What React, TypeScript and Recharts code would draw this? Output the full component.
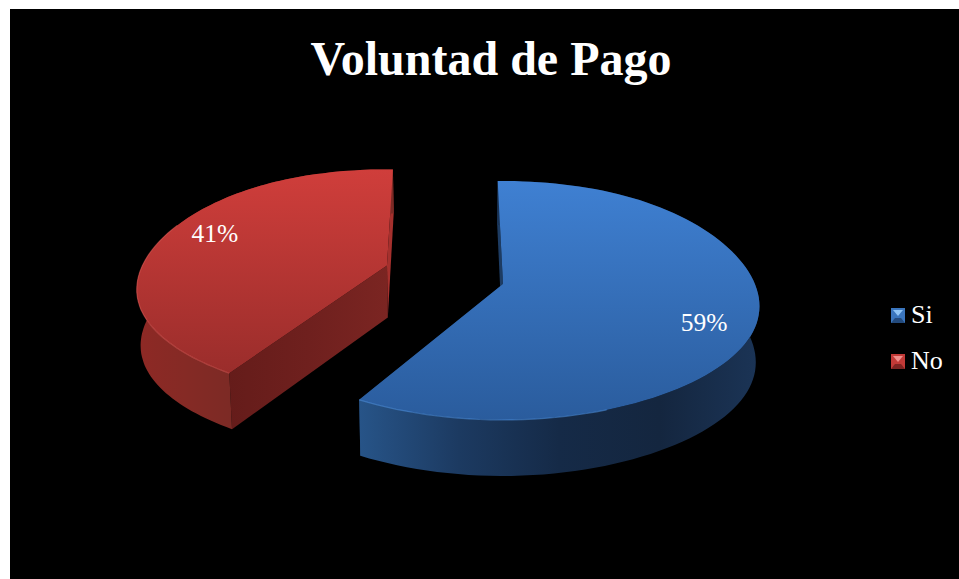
import React from 'react';
import { PieChart, Pie, Legend } from 'recharts';

const categories = ['Si', 'No'];
const values = [59, 41];
const fills = ['#3a75bd', '#c23a37'];
const titleText = 'Voluntad de Pago';

const tableData = categories.map((name, i) => ({ name, value: values[i], fill: fills[i] }));

const CW = 949, CH = 570, OX = 10, OY = 9;
const PIE_CX = 435, PIE_CY = 265, PIE_R = 100;

type Look = {
  dx: number; dy: number; rx: number; ry: number; k: number; startAdj: number; endAdj: number;
  labelF: number; labelDy: number; edgeFrom: number; edgeTo: number;
  top: [string, string]; ribbon: string[]; cut: string[]; sliver: string; edge: string;
  topY: [number, number]; ribbonX: [number, number]; cutX: [number, number];
};
const looks: Record<string, Look> = {
  Si: {
    dx: 58, dy: 10, rx: 2.54, ry: 1.172, k: 0.138, startAdj: 0.65, endAdj: -0.5, labelF: 0.795, labelDy: 14.5,
    edgeFrom: 76, edgeTo: 101,
    top: ['#3f80d2', '#2a5c9d'], topY: [172, 411],
    ribbon: ['#275488', '#1c3a61', '#152a47', '#14263f', '#1b3456'], ribbonX: [349, 750],
    cut: ['#1d3c63', '#1d3c63'], cutX: [350, 500], sliver: '#1d3c63', edge: '#4f90dc',
  },
  No: {
    dx: -58, dy: -8.5, rx: 2.47, ry: 1.115, k: 0.16, startAdj: 3.2, endAdj: 3.6, labelF: 0.74, labelDy: -11.5,
    edgeFrom: 0, edgeTo: 56,
    top: ['#d03e3b', '#9a2d2b'], topY: [159, 365],
    ribbon: ['#8e2925', '#852a25', '#7c2a25'], ribbonX: [127, 222],
    cut: ['#651c1a', '#6f201e', '#7b2522'], cutX: [218, 378], sliver: '#a5302d', edge: '#dc5a55',
  },
};

const BOTTOM_SCALE = 0.988;
const SIDE_DROP = 6;

function project(l: Look, cx: number, cy: number, r: number, thetaDeg: number, f = 1) {
  const t = (thetaDeg * Math.PI) / 180;
  const u = Math.sin(t) * f, v = -Math.cos(t) * f;
  const w = 1 - l.k * v;
  return { x: cx + l.dx + (l.rx * r * u) / w, y: cy + l.dy + (l.ry * r * v) / w + SIDE_DROP * u * u * u * u, v };
}
function lower(p: { x: number; y: number; v: number }, cx: number, isApex = false) {
  const d = isApex ? 52 : p.v >= -0.1 ? 56 : 56 - (12 * (-0.1 - p.v)) / 0.9;
  return { x: cx + (p.x - cx) * BOTTOM_SCALE, y: p.y + d };
}
const toPath = (pts: { x: number; y: number }[], close = true) =>
  pts.map((p, i) => `${i ? 'L' : 'M'}${p.x.toFixed(1)} ${p.y.toFixed(1)}`).join(' ') + (close ? ' Z' : '');

function stops(cols: string[]) {
  return cols.map((c, i) => <stop key={i} offset={i / Math.max(cols.length - 1, 1)} stopColor={c} />);
}

function Slice3D(props: any) {
  const { cx, cy, outerRadius, startAngle, endAngle, name, payload } = props;
  const key = name ?? payload?.name;
  const l = looks[key];
  if (!l) return null;
  const a = Math.min(90 - startAngle, 90 - endAngle);
  const b = Math.max(90 - startAngle, 90 - endAngle);
  const th0 = a + l.startAdj;
  const th1 = b + l.endAdj;
  const arc: { x: number; y: number; v: number }[] = [];
  const n = 100;
  for (let i = 0; i <= n; i++) arc.push(project(l, cx, cy, outerRadius, th0 + ((th1 - th0) * i) / n));
  const apex = project(l, cx, cy, outerRadius, 0, 0);
  const low = arc.map((p) => lower(p, cx + 10));
  const apexL = lower(apex, cx + 10, true);
  const first = arc[0], last = arc[n], firstL = low[0], lastL = low[n];
  const topPath = toPath([apex, ...arc]);
  const ribbon = toPath([...arc, ...low.slice().reverse()]);
  const id = `g${key}`;
  const edgeArc = arc.slice(l.edgeFrom, l.edgeTo);
  return (
    <g>
      <defs>
        <linearGradient id={`${id}t`} gradientUnits="userSpaceOnUse" x1="0" x2="0" y1={l.topY[0]} y2={l.topY[1]}>
          {stops(l.top)}
        </linearGradient>
        <linearGradient id={`${id}r`} gradientUnits="userSpaceOnUse" x1={l.ribbonX[0]} x2={l.ribbonX[1]} y1="0" y2="0">
          {stops(l.ribbon)}
        </linearGradient>
        <linearGradient id={`${id}c`} gradientUnits="userSpaceOnUse" x1={l.cutX[0]} x2={l.cutX[1]} y1="0" y2="0">
          {stops(l.cut)}
        </linearGradient>
      </defs>
      <path d={toPath(key === 'Si' ? [apex, first, firstL, apexL] : [apex, last, lastL, apexL])} fill={l.sliver} />
      <path d={toPath(key === 'Si' ? [apex, last, lastL, apexL] : [apex, first, firstL, apexL])} fill={`url(#${id}c)`} />
      <path d={ribbon} fill={`url(#${id}r)`} />
      <path d={topPath} fill={`url(#${id}t)`} />
      <path d={toPath(edgeArc, false)} fill="none" stroke={l.edge} strokeWidth={1.2} strokeOpacity={0.55} />
    </g>
  );
}

function SliceLabel(props: any) {
  const { cx, cy, outerRadius, midAngle, percent, name, payload } = props;
  const key = name ?? payload?.name;
  const l = looks[key];
  if (!l) return null;
  const p = project(l, cx, cy, outerRadius, 90 - midAngle, l.labelF);
  return (
    <text x={p.x} y={p.y + l.labelDy - 2} textAnchor="middle" dominantBaseline="central"
      fontFamily="'Liberation Serif', serif" fontSize={25.5} fill="#ffffff">
      {`${Math.round(percent * 100)}%`}
    </text>
  );
}

function BevelIcon({ color, dark, light }: { color: string; dark: string; light: string }) {
  return (
    <svg width={14} height={15} style={{ display: 'block' }}>
      <rect width={14} height={15} fill={color} />
      <polygon points="0,15 14,15 10,10 4,10" fill={dark} />
      <polygon points="2,2 12,2 7,8" fill={light} />
    </svg>
  );
}

function LegendBox({ payload }: any) {
  const icons: Record<string, [string, string]> = { Si: ['#234a7c', '#8fc4f5'], No: ['#7d2422', '#ee8f8c'] };
  const ordered = [...(payload || [])].sort((p: any, q: any) => categories.indexOf(p.value) - categories.indexOf(q.value));
  return (
    <div>
      {ordered.map((e: any) => (
        <div key={e.value} style={{ display: 'flex', alignItems: 'center', height: 46, color: '#fff',
          fontFamily: "'Liberation Serif', serif", fontSize: 26 }}>
          <BevelIcon color={e.color} dark={icons[e.value][0]} light={icons[e.value][1]} />
          <span style={{ marginLeft: 6 }}>{e.value}</span>
        </div>
      ))}
    </div>
  );
}

export default function App() {
  return (
    <div style={{ position: 'fixed', left: 0, top: 0, width: 959, height: 579, background: '#fff', overflow: 'hidden' }}>
      <div style={{ position: 'absolute', left: OX, top: OY, width: CW, height: CH, background: '#000' }}>
        <PieChart width={CW} height={CH} margin={{ top: 0, right: 0, bottom: 0, left: 0 }}>
          <text x={481} y={66} textAnchor="middle" fontFamily="'Liberation Serif', serif" fontWeight="bold"
            fontSize={48} fill="#ffffff">{titleText}</text>
          <Pie data={tableData} dataKey="value" nameKey="name" cx={PIE_CX} cy={PIE_CY} innerRadius={0}
            outerRadius={PIE_R} startAngle={92} endAngle={-268} stroke="none" isAnimationActive={false}
            shape={Slice3D} label={SliceLabel} labelLine={false} />
          <Legend content={<LegendBox />} layout="vertical" wrapperStyle={{ position: 'absolute', left: 881, top: 283, width: 68 }} />
        </PieChart>
      </div>
    </div>
  );
}
